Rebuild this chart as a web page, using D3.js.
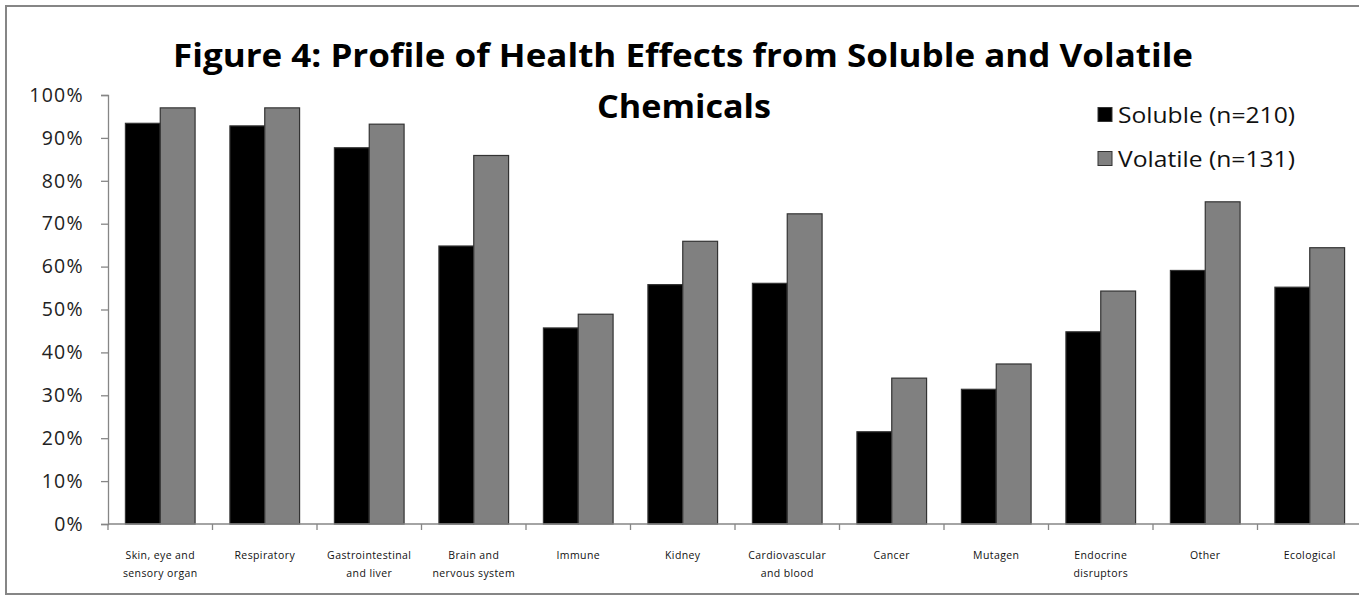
<!DOCTYPE html>
<html>
<head>
<meta charset="utf-8">
<script src="https://cdn.jsdelivr.net/npm/d3@7"></script>
<style>
  html, body { margin: 0; padding: 0; background: #fff; }
  svg { display: block; }
  text { font-family: "Open Sans", "Noto Sans", sans-serif; }
</style>
</head>
<body>
<svg id="chart" width="1359" height="597"></svg>
<script>
// ---- data ----
const categories = [
  ["Skin, eye and", "sensory organ"],
  ["Respiratory"],
  ["Gastrointestinal", "and liver"],
  ["Brain and", "nervous system"],
  ["Immune"],
  ["Kidney"],
  ["Cardiovascular", "and blood"],
  ["Cancer"],
  ["Mutagen"],
  ["Endocrine", "disruptors"],
  ["Other"],
  ["Ecological"]
];
const seriesNames = ["Soluble (n=210)", "Volatile (n=131)"];
const soluble  = [93.4, 92.8, 87.7, 64.8, 45.7, 55.8, 56.1, 21.5, 31.4, 44.8, 59.1, 55.2];
const volatile = [97.0, 97.0, 93.2, 85.9, 48.9, 65.9, 72.3, 34.0, 37.3, 54.3, 75.1, 64.4];
const yTicks = [0, 10, 20, 30, 40, 50, 60, 70, 80, 90, 100];
const titleLines = ["Figure 4: Profile of Health Effects from Soluble and Volatile", "Chemicals"];
const colors = ["#000000", "#808080"];

// ---- layout ----
const svg = d3.select("#chart");
const plot = { left: 108, right: 1362, top: 95, bottom: 524 };

// outer chart border (right edge falls outside the picture)
svg.append("rect")
  .attr("x", 6).attr("y", 6)
  .attr("width", 1362).attr("height", 588)
  .attr("fill", "#fff").attr("stroke", "#868686").attr("stroke-width", 2);

const keys = categories.map((c, i) => i);
const x0 = d3.scaleBand().domain(keys).range([plot.left, plot.right])
  .paddingInner(1/3).paddingOuter(1/6);
const x1 = d3.scaleBand().domain([0, 1]).range([0, x0.bandwidth()]);
const y = d3.scaleLinear().domain([0, 100]).range([plot.bottom, plot.top]);

// bars
const g = svg.append("g");
const seriesData = [soluble, volatile];
seriesData.forEach((vals, s) => {
  g.selectAll(".bar" + s).data(vals).join("rect")
    .attr("x", (d, i) => x0(i) + x1(s))
    .attr("y", d => y(d))
    .attr("width", x1.bandwidth())
    .attr("height", d => y(0) - y(d))
    .attr("fill", colors[s])
    .attr("stroke", "#333")
    .attr("stroke-width", 1.2);
});

// y axis
const yAxis = d3.axisLeft(y).tickValues(yTicks).tickFormat(d => d + "%")
  .tickSize(7).tickPadding(17);
const ya = svg.append("g").attr("transform", `translate(${plot.left},0)`).call(yAxis);
ya.select(".domain").attr("stroke", "#868686").attr("stroke-width", 1.3);
ya.selectAll(".tick line").attr("stroke", "#868686").attr("stroke-width", 1.3);
ya.selectAll(".tick text")
  .attr("fill", "#222").attr("font-size", 19.5).attr("letter-spacing", 1.3)
  .style("font-family", "'Open Sans', sans-serif");

// x axis line + boundary ticks
const boundaries = d3.range(categories.length + 1).map(i => plot.left + i * x0.step());
const xa = svg.append("g");
xa.append("line")
  .attr("x1", plot.left).attr("x2", plot.right)
  .attr("y1", y(0)).attr("y2", y(0))
  .attr("stroke", "#868686").attr("stroke-width", 1.3);
xa.selectAll(".bt").data(boundaries).join("line")
  .attr("x1", d => d).attr("x2", d => d)
  .attr("y1", y(0)).attr("y2", y(0) + 6)
  .attr("stroke", "#868686").attr("stroke-width", 1.3);

// x category labels
const lbl = svg.append("g");
categories.forEach((lines, i) => {
  const t = lbl.append("text")
    .attr("x", x0(i) + x0.bandwidth() / 2)
    .attr("y", 559)
    .attr("text-anchor", "middle")
    .attr("font-size", 10.5)
    .attr("letter-spacing", 0.4)
    .attr("fill", "#111");
  lines.forEach((ln, k) => {
    t.append("tspan")
      .attr("x", x0(i) + x0.bandwidth() / 2)
      .attr("dy", k === 0 ? 0 : 18)
      .text(ln);
  });
});

// title
svg.append("text")
  .attr("x", 683).attr("y", 67)
  .attr("text-anchor", "middle")
  .attr("font-size", 31.5).attr("font-weight", "bold").attr("fill", "#000")
  .attr("textLength", 1020).attr("lengthAdjust", "spacingAndGlyphs")
  .text(titleLines[0]);
svg.append("text")
  .attr("x", 684).attr("y", 118)
  .attr("text-anchor", "middle")
  .attr("font-size", 31.5).attr("font-weight", "bold").attr("fill", "#000")
  .attr("textLength", 174).attr("lengthAdjust", "spacingAndGlyphs")
  .text(titleLines[1]);

// legend
const legend = svg.append("g");
seriesNames.forEach((name, s) => {
  const cy = 115 + s * 44;
  legend.append("rect")
    .attr("x", 1098).attr("y", cy - 7.5)
    .attr("width", 14).attr("height", 14)
    .attr("fill", colors[s]).attr("stroke", "#333").attr("stroke-width", 1);
  legend.append("text")
    .attr("x", 1118).attr("y", cy + 7.5)
    .attr("font-size", 21).attr("fill", "#111")
    .attr("textLength", 177).attr("lengthAdjust", "spacingAndGlyphs")
    .text(name);
});
</script>
</body>
</html>
